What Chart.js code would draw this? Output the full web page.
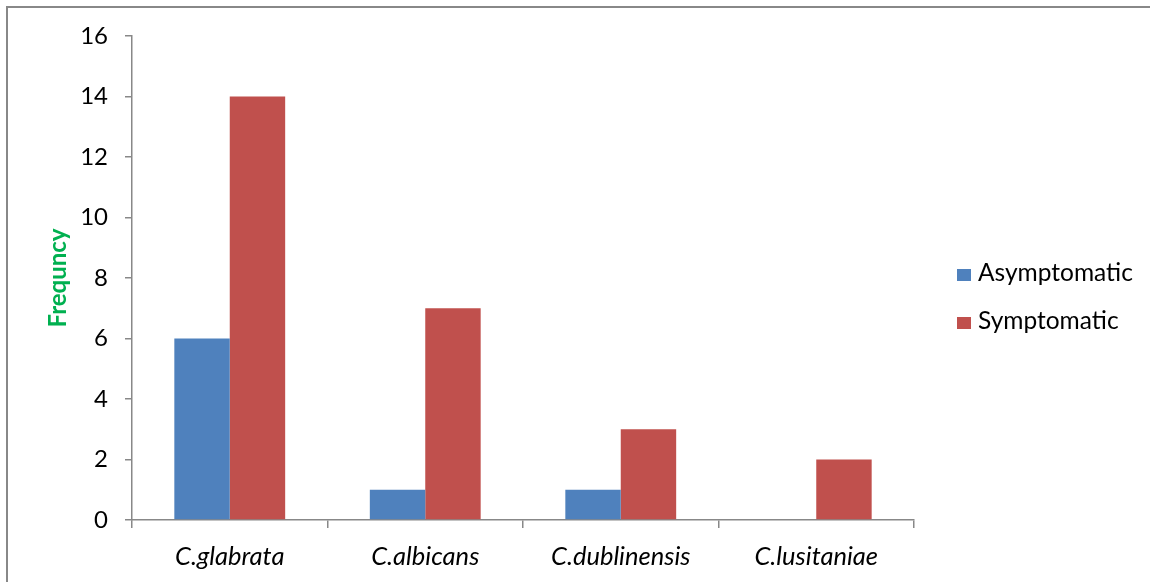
<!DOCTYPE html>
<html>
<head>
<meta charset="utf-8">
<script src="https://cdn.jsdelivr.net/npm/chart.js@4.4.1/dist/chart.umd.min.js"></script>
<style>
  html, body { margin: 0; padding: 0; background: #fff; }
  #wrap { position: relative; width: 1150px; height: 582px; overflow: hidden; }
  #frame { position: absolute; left: 6px; top: 6px; width: 1200px; height: 700px;
           border-left: 2px solid #888; border-top: 2px solid #888; box-sizing: border-box; }
  #chart { position: absolute; left: 0; top: 0; }
  #legend { position: absolute; left: 957px; top: 257px; font-family: Lato, sans-serif;
            font-size: 24.5px; color: #000; }
  .item { position: relative; height: 48px; line-height: 30px; white-space: nowrap; }
  .swatch { position: absolute; left: 0; top: 12px; width: 14px; height: 12px; }
  .label { position: absolute; left: 21px; top: 0; }
</style>
</head>
<body>
<div id="wrap">
  <div id="frame"></div>
  <canvas id="chart" width="1150" height="582"></canvas>
  <div id="legend"></div>
</div>
<script>
// Species and isolate counts per group
const categories = ['C.glabrata', 'C.albicans', 'C.dublinensis', 'C.lusitaniae'];
const asymptomatic = [6, 1, 1, 0];
const symptomatic = [14, 7, 3, 2];
const seriesNames = ['Asymptomatic', 'Symptomatic'];
const yTicks = [0, 2, 4, 6, 8, 10, 12, 14, 16];

const AXIS = '#888888';
const FONT = 'Lato, sans-serif';

const chart = new Chart(document.getElementById('chart'), {
  type: 'bar',
  data: {
    labels: categories,
    datasets: [
      { label: seriesNames[0], data: asymptomatic, backgroundColor: '#4F81BD' },
      { label: seriesNames[1], data: symptomatic, backgroundColor: '#C0504D' }
    ]
  },
  options: {
    responsive: false,
    animation: false,
    categoryPercentage: 0.567,
    barPercentage: 1.0,
    layout: { padding: { top: 36, right: 236, left: 0, bottom: 0 } },
    plugins: {
      legend: { display: false },
      tooltip: { enabled: false }
    },
    scales: {
      x: {
        grid: { display: true, drawOnChartArea: false, drawTicks: true, tickLength: 8, color: AXIS, lineWidth: 1.5, offset: true },
        border: { display: true, color: AXIS, width: 1.5 },
        ticks: { color: '#000', font: { family: FONT, size: 25.5, style: 'italic' }, padding: 13, maxRotation: 0 },
        afterFit: (s) => { s.height = 62; }
      },
      y: {
        min: 0, max: 16,
        afterBuildTicks: (s) => { s.ticks = yTicks.map(v => ({ value: v })); },
        grid: { display: true, drawOnChartArea: false, drawTicks: true, tickLength: 7, color: AXIS, lineWidth: 1.5 },
        border: { display: true, color: AXIS, width: 1.5 },
        ticks: { color: '#000', font: { family: FONT, size: 24 }, padding: 17 },
        title: {
          display: true, text: 'Frequncy', color: '#00B050',
          font: { family: FONT, size: 24, weight: 'bold' },
          padding: { top: 44, bottom: 0 }
        },
        afterFit: (s) => { s.width = 132; }
      }
    }
  }
});

// Legend built from the chart's own datasets
const legendEl = document.getElementById('legend');
chart.data.datasets.forEach(ds => {
  const item = document.createElement('div');
  item.className = 'item';
  const sw = document.createElement('span');
  sw.className = 'swatch';
  sw.style.background = ds.backgroundColor;
  const lb = document.createElement('span');
  lb.className = 'label';
  lb.textContent = ds.label;
  item.appendChild(sw);
  item.appendChild(lb);
  legendEl.appendChild(item);
});
</script>
</body>
</html>
